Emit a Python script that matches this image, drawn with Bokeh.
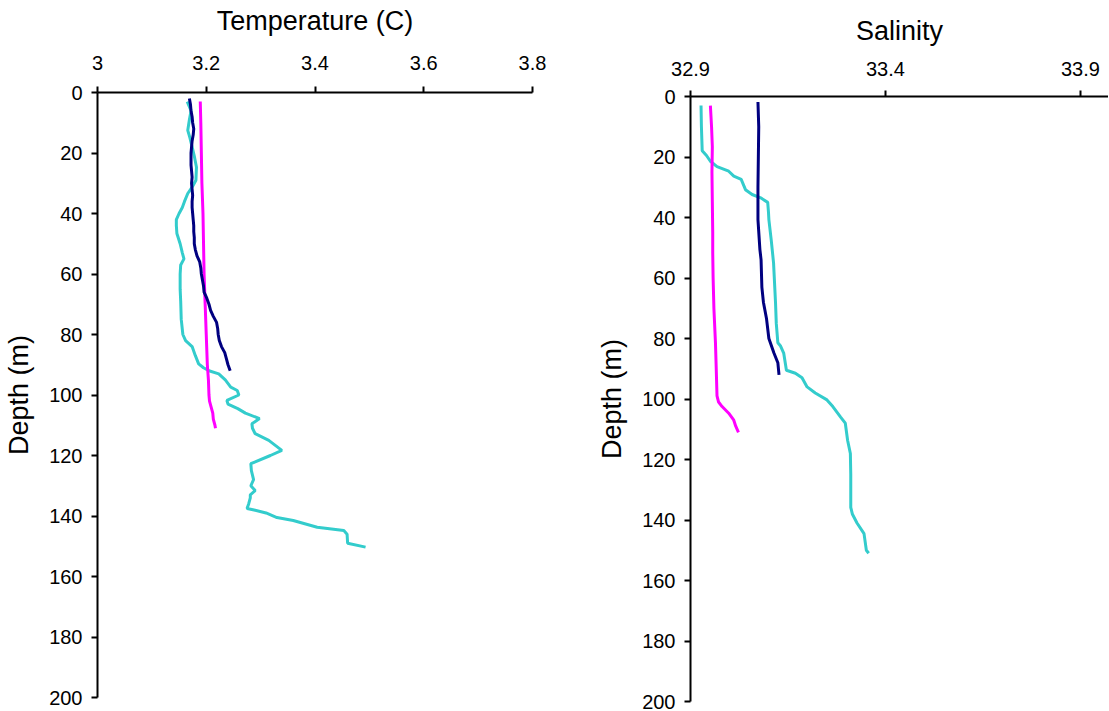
from bokeh.plotting import figure
from bokeh.models import Range1d, FixedTicker, Spacer
from bokeh.layouts import row, column
from bokeh.embed import file_html
from bokeh.resources import INLINE

# ---------------- data ----------------
temp_ticks = [3, 3.2, 3.4, 3.6, 3.8]
temp_tick_labels = ["3", "3.2", "3.4", "3.6", "3.8"]
sal_ticks = [32.9, 33.4, 33.9]
sal_tick_labels = ["32.9", "33.4", "33.9"]
depth_ticks = [0, 20, 40, 60, 80, 100, 120, 140, 160, 180, 200]

# Temperature profiles
navy_t_depth = [2, 4, 6, 8, 10, 12, 14, 16, 18, 20, 22, 24, 26, 28, 30, 32, 34, 36, 38, 40,
                42, 44, 46, 48, 50, 52, 54, 56, 58, 60, 62, 64, 66, 68, 70, 72, 74, 76, 78, 80,
                82, 84, 86, 88, 90, 92]
navy_t_value = [3.169, 3.171, 3.172, 3.174, 3.175, 3.177, 3.176, 3.174, 3.173, 3.172, 3.172, 3.172,
                3.173, 3.174, 3.173, 3.174, 3.175, 3.174, 3.174, 3.175, 3.176, 3.177, 3.177, 3.178,
                3.178, 3.180, 3.183, 3.188, 3.190, 3.191, 3.193, 3.195, 3.196, 3.201, 3.205, 3.208,
                3.213, 3.219, 3.221, 3.222, 3.224, 3.228, 3.234, 3.237, 3.240, 3.244]

mag_t_depth = [3, 10, 20, 30, 40, 50, 60, 70, 80, 90, 95, 100, 102, 104, 106, 108, 110, 111]
mag_t_value = [3.189, 3.190, 3.191, 3.192, 3.194, 3.195, 3.196, 3.198, 3.200, 3.202, 3.204, 3.205,
               3.206, 3.209, 3.212, 3.213, 3.216, 3.217]

cyan_t_depth = [3, 6, 9, 12.5, 15, 18, 21, 24.7, 29, 31, 33.4, 36, 38, 40, 42, 44, 46.6, 50, 53, 55,
                57, 60, 65, 69, 75, 80, 82, 84, 87, 89.7, 91, 92, 93, 95, 97.4, 98.5, 100, 101.8,
                103, 104.5, 106, 107.8, 109.5, 111, 112.8, 115, 118.3, 120, 122.7, 125, 128, 130,
                131.6, 133, 134, 136, 137.5, 138, 139, 140.5, 141.5, 143.7, 144.8, 146, 149, 150.3]
cyan_t_value = [3.165, 3.172, 3.169, 3.166, 3.170, 3.174, 3.178, 3.182, 3.181, 3.175, 3.166, 3.160,
                3.156, 3.150, 3.145, 3.145, 3.146, 3.152, 3.156, 3.159, 3.153, 3.152, 3.152, 3.153,
                3.154, 3.157, 3.162, 3.174, 3.180, 3.186, 3.195, 3.205, 3.223, 3.235, 3.245, 3.257,
                3.260, 3.238, 3.240, 3.258, 3.272, 3.298, 3.284, 3.285, 3.290, 3.315, 3.339, 3.318,
                3.282, 3.283, 3.287, 3.282, 3.290, 3.281, 3.281, 3.278, 3.275, 3.288, 3.310, 3.330,
                3.360, 3.404, 3.453, 3.459, 3.460, 3.493]

# Salinity profiles
navy_s_depth = [1.8, 10, 20, 30, 40.7, 50.6, 54, 63, 68, 73.5, 80, 84.8, 88, 92]
navy_s_value = [33.073, 33.075, 33.074, 33.073, 33.073, 33.078, 33.081, 33.083, 33.087, 33.095,
                33.101, 33.114, 33.124, 33.127]

mag_s_depth = [3, 10, 16.6, 25, 35, 45, 51.6, 60, 70, 81.4, 90, 99, 101, 102.5, 104.7, 107, 109, 111]
mag_s_value = [32.951, 32.954, 32.956, 32.955, 32.956, 32.957, 32.957, 32.958, 32.960, 32.964,
               32.966, 32.968, 32.972, 32.981, 32.998, 33.011, 33.016, 33.023]

cyan_s_depth = [3, 10, 17.9, 19.5, 21.4, 23.2, 24.7, 26.3, 27.4, 30.8, 32.4, 33.5, 35, 38.3, 40.7,
                47.4, 55, 68, 75, 81.4, 82.5, 84.8, 90.5, 91.5, 93, 96, 98, 100.3, 102.5, 106, 108,
                113.7, 118, 125, 135.8, 138, 141, 144.5, 150, 151]
cyan_s_value = [32.927, 32.928, 32.930, 32.941, 32.951, 32.968, 32.998, 33.011, 33.030, 33.041,
                33.058, 33.080, 33.098, 33.100, 33.101, 33.107, 33.113, 33.118, 33.120, 33.124,
                33.131, 33.139, 33.146, 33.169, 33.186, 33.199, 33.220, 33.250, 33.265, 33.285,
                33.297, 33.303, 33.310, 33.311, 33.311, 33.315, 33.327, 33.345, 33.351, 33.357]

NAVY = "#000080"
MAGENTA = "#FF00FF"
CYAN = "#33CCCC"
FONT = "Liberation Sans"


def style(p, xticks, xlabels, title, label_standoff, title_standoff):
    p.grid.visible = False
    p.outline_line_color = None
    p.background_fill_color = "white"
    p.border_fill_color = "white"
    ax = p.xaxis[0]
    ax.ticker = FixedTicker(ticks=xticks)
    ax.major_label_overrides = {t: l for t, l in zip(xticks, xlabels)}
    ax.axis_label = title
    ay = p.yaxis[0]
    ay.ticker = FixedTicker(ticks=depth_ticks)
    ay.axis_label = "Depth (m)"
    for a in (ax, ay):
        a.axis_line_color = "black"
        a.axis_line_width = 2
        a.major_tick_line_color = "black"
        a.major_tick_line_width = 2
        a.major_tick_in = 0
        a.major_tick_out = 6
        a.minor_tick_line_color = None
        a.major_label_text_font = FONT
        a.major_label_text_font_size = "20px"
        a.major_label_text_color = "black"
        a.axis_label_text_font = FONT
        a.axis_label_text_font_size = "27px"
        a.axis_label_text_font_style = "normal"
        a.axis_label_text_color = "black"
    ax.major_label_standoff = label_standoff
    ax.axis_label_standoff = title_standoff
    ay.major_label_standoff = 9
    ay.axis_label_standoff = 12


p1 = figure(width=592, height=711, x_range=Range1d(3, 3.8), y_range=Range1d(200, 0),
            x_axis_location="above", output_backend="svg", toolbar_location=None,
            min_border_left=97, min_border_right=60, min_border_top=92, min_border_bottom=14)
style(p1, temp_ticks, temp_tick_labels, "Temperature (C)", 17, 17)
p1.line(cyan_t_value, cyan_t_depth, line_color=CYAN, line_width=3)
p1.line(mag_t_value, mag_t_depth, line_color=MAGENTA, line_width=3)
p1.line(navy_t_value, navy_t_depth, line_color=NAVY, line_width=3)

p2 = figure(width=516, height=707, x_range=Range1d(32.9, 33.972), y_range=Range1d(200, 0),
            x_axis_location="above", output_backend="svg", toolbar_location=None,
            min_border_left=98, min_border_right=0, min_border_top=92, min_border_bottom=10)
style(p2, sal_ticks, sal_tick_labels, "Salinity", 15, 13)
p2.line(cyan_s_value, cyan_s_depth, line_color=CYAN, line_width=3)
p2.line(mag_s_value, mag_s_depth, line_color=MAGENTA, line_width=3)
p2.line(navy_s_value, navy_s_depth, line_color=NAVY, line_width=3)

layout = row(p1, column(Spacer(width=516, height=4), p2))
open("out.html", "w").write(file_html(layout, INLINE))
